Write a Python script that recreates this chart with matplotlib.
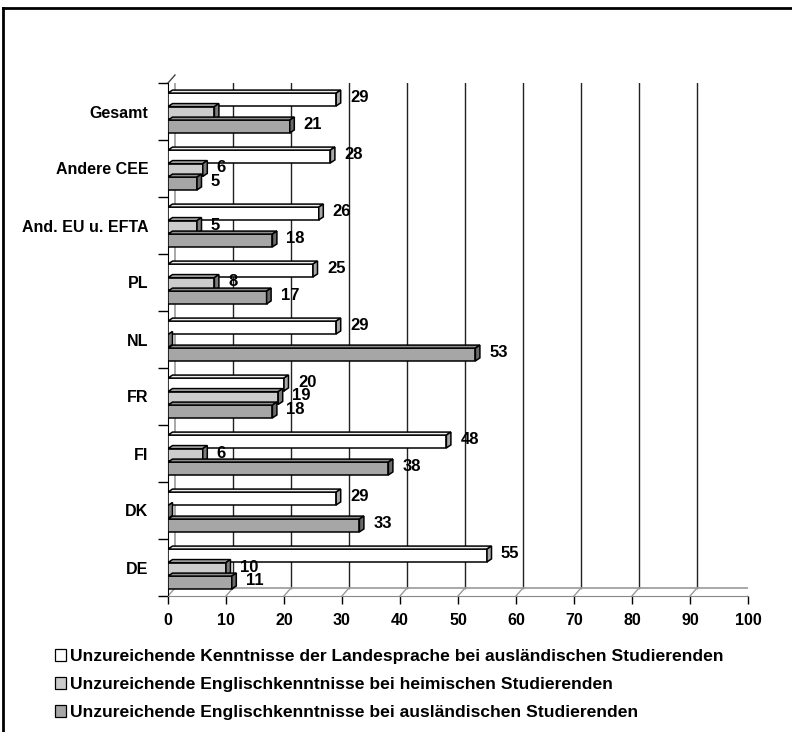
import numpy as np
import matplotlib
matplotlib.use('Agg')
import matplotlib.pyplot as plt
from matplotlib.patches import Polygon, Rectangle
from matplotlib.lines import Line2D
import matplotlib.transforms as mtrans

# data
categories = ["Gesamt", "Andere CEE", "And. EU u. EFTA", "PL", "NL", "FR", "FI", "DK", "DE"]
landessprache_ausl = [29, 28, 26, 25, 29, 20, 48, 29, 55]
englisch_heimisch = [8, 6, 5, 8, 0, 19, 6, 0, 10]
englisch_ausl = [21, 5, 18, 17, 53, 18, 38, 33, 11]
series_names = [
    "Unzureichende Kenntnisse der Landesprache bei ausländischen Studierenden",
    "Unzureichende Englischkenntnisse bei heimischen Studierenden",
    "Unzureichende Englischkenntnisse bei ausländischen Studierenden",
]
x_ticks = list(range(0, 101, 10))
hidden_labels = {(0, 1)}  # Gesamt, heimisch: label covered in original

series = [landessprache_ausl, englisch_heimisch, englisch_ausl]
front_cols = ["#FFFFFF", "#CCCCCC", "#A6A6A6"]
top_cols = ["#EEEEEE", "#BBBBBB", "#8E8E8E"]
side_cols = ["#A8A8A8", "#7C7C7C", "#6A6A6A"]

plt.rcParams['font.family'] = ['Liberation Sans', 'DejaVu Sans']
plt.rcParams['font.weight'] = 'bold'

W, H = 792, 732
fig = plt.figure(figsize=(W / 100, H / 100), dpi=100)
x0, x1, ytop, ybot = 168, 748, 83, 596
ax = fig.add_axes([x0 / W, 1 - ybot / H, (x1 - x0) / W, (ybot - ytop) / H])
n = len(categories)
ax.set_xlim(0, 100)
ax.set_ylim(n - 0.5, -0.5)

# px -> data
sx = 100 / (x1 - x0)
sy = n / (ybot - ytop)

# back wall (offset for 3d depth)
wall = mtrans.offset_copy(ax.transData, fig=fig, x=7, y=8, units='dots')
for t in x_ticks[1:-1]:
    ax.plot([t, t], [-0.5, n - 0.5], color='#222222', lw=1, transform=wall, zorder=1)
ax.add_patch(Rectangle((0, -0.5), 100, n, fill=False, ec='#999999', lw=1.2,
                       transform=wall, zorder=1))
# floor diagonals
for t in x_ticks:
    ax.add_line(Line2D([t, t + 7 * sx], [n - 0.5, n - 0.5 - 8 * sy], color='#999999', lw=1, zorder=1))
# left wall top edge
ax.add_line(Line2D([0, 7 * sx], [-0.5, -0.5 - 8 * sy], color='#444444', lw=1, zorder=1, clip_on=False))

# bars with pseudo-3d faces
h = 0.225
offs = [-0.237, 0.0, 0.237]
dx, dy = 4.5 * sx, 3.0 * sy
z = 3
for j in range(n):
    for i, vals in enumerate(series):
        v = vals[j]
        yc = j + offs[i] + 1.5 * sy
        yt, yb = yc - h / 2, yc + h / 2
        ax.barh(yc, v, height=h, color=front_cols[i], edgecolor='black', lw=1.1, zorder=z)
        ax.add_patch(Polygon([(0, yt), (v, yt), (v + dx, yt - dy), (dx, yt - dy)],
                             closed=True, fc=top_cols[i], ec='black', lw=1.1, zorder=z))
        ax.add_patch(Polygon([(v, yt), (v + dx, yt - dy), (v + dx, yb - dy), (v, yb)],
                             closed=True, fc=side_cols[i], ec='black', lw=1.1, zorder=z))
        z += 1
        if v > 0 and (j, i) not in hidden_labels:
            ax.annotate(str(v), (v, yc), xytext=(14, 2), textcoords='offset pixels',
                        ha='left', va='center', fontsize=12, fontweight='bold', zorder=100)

# axes styling
for s in ['top', 'right']:
    ax.spines[s].set_visible(False)
ax.spines['bottom'].set_color('#888888')
ax.spines['left'].set_color('black')
ax.set_xticks(x_ticks)
ax.set_xticklabels([str(t) for t in x_ticks], fontsize=11.5, fontweight='bold')
ax.tick_params(axis='x', direction='out', length=6, width=1, color='black', pad=6)
ax.set_yticks(range(n))
ax.set_yticklabels(categories, fontsize=11.5, fontweight='bold')
ax.tick_params(axis='y', length=0, pad=14)
ax.set_yticks(np.arange(-0.5, n, 1), minor=True)
ax.tick_params(axis='y', which='minor', direction='out', length=7, width=1, color='black')

# legend
handles = [Rectangle((0, 0), 1, 1, fc=c, ec='black', lw=0.9) for c in front_cols]
fig.legend(handles, series_names, loc='upper left', bbox_to_anchor=(48 / W, 1 - 642 / H),
           frameon=False, prop={'weight': 'bold', 'size': 12.6}, handlelength=0.65,
           handleheight=0.65, handletextpad=0.2, labelspacing=0.75, borderaxespad=0)

# outer frame (only top and left edge visible)
fig.add_artist(Line2D([3 / W, 1], [1 - 8 / H, 1 - 8 / H], color='black', lw=2, transform=fig.transFigure))
fig.add_artist(Line2D([3 / W, 3 / W], [0, 1 - 8 / H], color='black', lw=2, transform=fig.transFigure))

fig.savefig("out.png", dpi=100)
